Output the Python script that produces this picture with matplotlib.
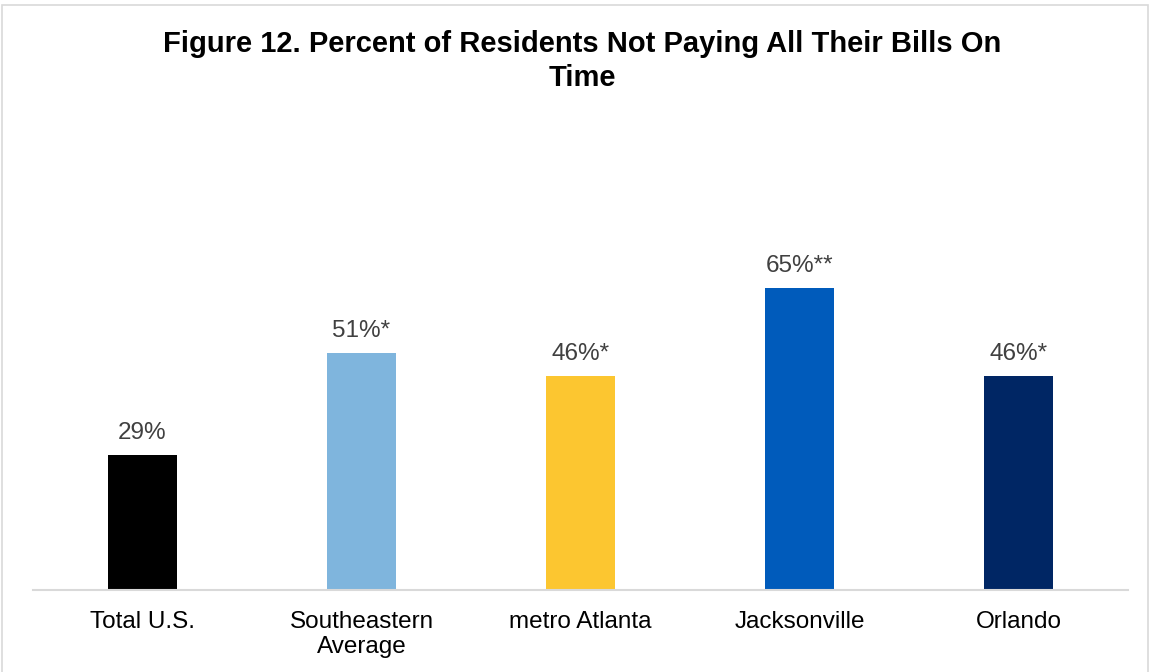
import matplotlib.pyplot as plt
from matplotlib.patches import Rectangle

plt.rcParams['font.family'] = ['Liberation Sans', 'DejaVu Sans']

categories = ['Total U.S.', 'Southeastern\nAverage', 'metro Atlanta', 'Jacksonville', 'Orlando']
values = [29, 51, 46, 65, 46]
marks = ['', '*', '*', '**', '*']
colors = ['#000000', '#7FB5DD', '#FCC630', '#005BBB', '#002664']

fig = plt.figure(figsize=(11.51, 6.72), dpi=100)
ax = fig.add_axes([33 / 1151, 1 - 590 / 672, 1095 / 1151, 325 / 672])

x = range(len(categories))
bars = ax.bar(x, values, width=0.315, color=colors)

for rect, v, m in zip(bars, values, marks):
    ax.annotate(f'{v}%{m}', (rect.get_x() + rect.get_width() / 2, v),
                xytext=(0, 8), textcoords='offset points',
                ha='center', va='bottom', fontsize=17.5, color='#404040')

ax.set_xlim(-0.5, 4.5)
ax.set_ylim(0, 70)
ax.set_xticks(list(x))
ax.set_xticklabels(categories, fontsize=17.5, color='black', linespacing=1.2)
ax.tick_params(axis='x', length=0, pad=15)
ax.set_yticks([])
for side in ['top', 'left', 'right']:
    ax.spines[side].set_visible(False)
ax.spines['bottom'].set_color('#D9D9D9')
ax.spines['bottom'].set_linewidth(1.5)

fig.text(582 / 1151, 1 - 61 / 672,
         'Figure 12. Percent of Residents Not Paying All Their Bills On\nTime',
         ha='center', va='center', fontsize=21, fontweight='bold', linespacing=1.3)

# thin frame around the chart, open at the bottom edge
fig.add_artist(Rectangle((2 / 1151, -0.05), 1146 / 1151, 1.05 - 5 / 672,
                         transform=fig.transFigure, fill=False,
                         edgecolor='#D9D9D9', linewidth=1.2))

fig.savefig('out.png', dpi=100)
